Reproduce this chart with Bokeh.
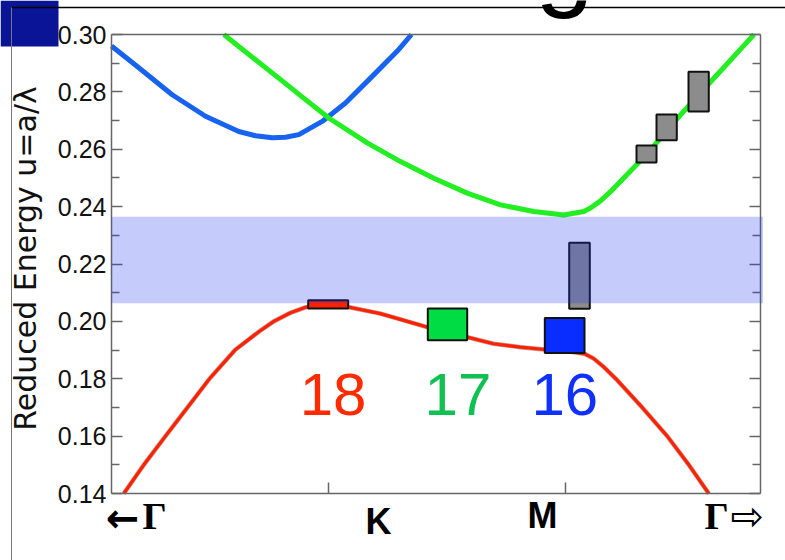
from math import pi

from bokeh.plotting import figure
from bokeh.models import Range1d, LinearAxis, FixedTicker, Label, BoxAnnotation
from bokeh.core.properties import value
from bokeh.embed import file_html
from bokeh.resources import INLINE

# Position along the Brillouin-zone path: K = 1, M = 2 (Γ lies beyond both ends of the window)
k_window = (0.0844, 2.8228)
u_window = (0.14, 0.30)

path_ticks = [1.0, 2.0]
energy_ticks = [0.14, 0.16, 0.18, 0.20, 0.22, 0.24, 0.26, 0.28, 0.30]
energy_tick_labels = ["0.14", "0.16", "0.18", "0.20", "0.22", "0.24", "0.26", "0.28", "0.30"]
energy_minor_ticks = [0.15, 0.17, 0.19, 0.21, 0.23, 0.25, 0.27, 0.29]

# dielectric band (red)
band18_k = [0.1363, 0.2207, 0.3122, 0.4051, 0.4979, 0.6055, 0.7059, 0.7692, 0.8397, 0.9030,
            0.9873, 1.0831, 1.2194, 1.4165, 1.5852, 1.6962, 1.8101, 1.9114, 2.0211, 2.0802,
            2.1181, 2.1616, 2.2181, 2.3236, 2.4291, 2.5203, 2.6046]
band18_u = [0.140, 0.150, 0.160, 0.170, 0.180, 0.190, 0.1964, 0.2000, 0.2030, 0.2049,
            0.2056, 0.2050, 0.2027, 0.1980, 0.1945, 0.1922, 0.1910, 0.1902, 0.1894, 0.1887,
            0.1871, 0.1841, 0.1795, 0.1700, 0.1600, 0.1500, 0.1400]

# upper band around K (blue)
band19_k = [0.0844, 0.1996, 0.3405, 0.4810, 0.6215, 0.6920, 0.7624, 0.8186, 0.8747, 0.9734,
            1.0717, 1.1844, 1.2966, 1.3502]
band19_u = [0.2960, 0.2884, 0.2790, 0.2715, 0.2662, 0.2647, 0.2640, 0.2642, 0.2651, 0.2697,
            0.2761, 0.2854, 0.2948, 0.3000]

# air band (green)
band20_k = [0.5582, 0.6920, 0.8325, 0.8819, 1.0013, 1.1633, 1.3038, 1.4443, 1.5852, 1.7257,
            1.8662, 1.9928, 2.0772, 2.1055, 2.1477, 2.1899, 2.2743, 2.3447, 2.4291, 2.5135,
            2.5979, 2.6679, 2.7456, 2.7954]
band20_u = [0.3000, 0.2912, 0.2820, 0.2787, 0.2709, 0.2622, 0.2557, 0.2499, 0.2447, 0.2406,
            0.2383, 0.2371, 0.2383, 0.2395, 0.2420, 0.2452, 0.2524, 0.2584, 0.2667, 0.2746,
            0.2822, 0.2885, 0.2955, 0.3000]

# photonic band gap
gap_bottom, gap_top = 0.2063, 0.2365

# measured resonances (k-span x energy-span boxes)
mode_left = [0.9143, 1.4190, 1.9127]
mode_right = [1.0831, 1.5852, 2.0802]
mode_bottom = [0.2045, 0.1934, 0.1890]
mode_top = [0.2074, 0.2045, 0.2012]
mode_fill = ["#ff2200", "#00dd44", "#0a2dff"]

gray_left = [2.0156, 2.2996, 2.3840, 2.5190]
gray_right = [2.1025, 2.3840, 2.4696, 2.6046]
gray_bottom = [0.2044, 0.2554, 0.2631, 0.2732]
gray_top = [0.2274, 0.2613, 0.2721, 0.2870]

# period labels of the three resonances
period_text = ["18", "17", "16"]
period_k = [1.019, 1.546, 1.997]
period_u = [0.1665, 0.1665, 0.1665]
period_color = ["#ff2a00", "#10c050", "#1030ff"]

# ---------------------------------------------------------------------------
# page geometry: the data frame covers the whole slide, the chart box sits
# between pixels 111..760 (x) and 34..493 (y)
W, H = 785, 560
K_PX, M_PX = 328, 565
TOP_PX, BOTTOM_PX = 34, 493


def kx(px):
    return 1.0 + (px - K_PX) / (M_PX - K_PX)


def uy(py):
    return u_window[1] - (py - TOP_PX) / (BOTTOM_PX - TOP_PX) * (u_window[1] - u_window[0])


# the svg text baseline lands a bit over a third of an em below the anchor
BASE_SHIFT = 0.38


def base(py, size):
    return uy(py - BASE_SHIFT * size)


p = figure(width=W, height=H, output_backend="svg", toolbar_location=None,
           x_range=Range1d(kx(0), kx(W)), y_range=Range1d(uy(H), uy(0)),
           min_border=0, x_axis_type=None, y_axis_type=None)
p.grid.visible = False
p.background_fill_color = "white"
p.border_fill_color = "white"
p.outline_line_color = None

axis_color = "#666666"


def style_axis(ax, tick_in=11, minor_in=8):
    ax.axis_line_color = axis_color
    ax.axis_line_width = 1.5
    ax.major_tick_line_color = axis_color
    ax.minor_tick_line_color = axis_color
    ax.major_tick_line_width = 1.5
    ax.minor_tick_line_width = 1.5
    ax.major_tick_in = tick_in
    ax.major_tick_out = 0
    ax.minor_tick_in = minor_in
    ax.minor_tick_out = 0


left_axis = LinearAxis(ticker=FixedTicker(ticks=energy_ticks, minor_ticks=energy_minor_ticks),
                       fixed_location=k_window[0], bounds=u_window)
left_axis.major_label_overrides = {t: s for t, s in zip(energy_ticks, energy_tick_labels)}
left_axis.major_label_text_font = "Liberation Sans"
left_axis.major_label_text_font_size = "25px"
left_axis.major_label_text_color = "#111111"
left_axis.major_label_standoff = 5
style_axis(left_axis)
p.add_layout(left_axis, "left")

right_axis = LinearAxis(ticker=FixedTicker(ticks=energy_ticks, minor_ticks=energy_minor_ticks),
                        fixed_location=k_window[1], bounds=u_window)
right_axis.major_label_text_color = None
style_axis(right_axis)
p.add_layout(right_axis, "right")

bottom_axis = LinearAxis(ticker=FixedTicker(ticks=path_ticks, minor_ticks=[]),
                         fixed_location=u_window[0], bounds=k_window)
bottom_axis.major_label_text_color = None
style_axis(bottom_axis)
p.add_layout(bottom_axis, "below")

top_axis = LinearAxis(ticker=FixedTicker(ticks=[], minor_ticks=[]),
                      fixed_location=u_window[1], bounds=k_window)
top_axis.major_label_text_color = None
style_axis(top_axis)
p.add_layout(top_axis, "above")

# bands
p.line(band18_k, band18_u, line_color="#7a2010", line_width=4.5, line_alpha=0.45,
       line_join="round")
p.line(band18_k, band18_u, line_color="#ff2200", line_width=3.2, line_join="round")
p.line(band19_k, band19_u, line_color="#1763f0", line_width=5, line_join="round")
p.line(band20_k, band20_u, line_color="#22ee22", line_width=5, line_join="round")

# resonances
p.quad(left=gray_left, right=gray_right, bottom=gray_bottom, top=gray_top,
       fill_color="#8c8c8c", line_color="#111111", line_width=2)
p.quad(left=mode_left, right=mode_right, bottom=mode_bottom, top=mode_top,
       fill_color=mode_fill, line_color="#111111", line_width=2)

# band gap drawn over everything, ticks included
p.add_layout(BoxAnnotation(left=k_window[0], right=kx(762.5), bottom=gap_bottom, top=gap_top,
                           fill_color="#2037ec", fill_alpha=0.26, line_alpha=0, level="overlay"))

p.text(x=period_k, y=period_u, text=period_text, text_color=period_color,
       text_font=value("Liberation Sans"), text_font_size="60px",
       text_align="center", text_baseline="alphabetic", y_offset=-BASE_SHIFT * 60)

# y-axis title (rotated: the baseline shift runs along +x)
p.add_layout(Label(x=kx(37 - 0.41 * 30), y=uy(258), text="Reduced Energy u=a/λ",
                   angle=pi / 2, text_font="DejaVu Sans", text_font_size="30px",
                   text_color="#111111", text_align="center", text_baseline="alphabetic"))

# path labels under the axis
lab = dict(text_align="center", text_baseline="alphabetic", text_color="black")
p.add_layout(Label(x=kx(122), y=base(533, 40), text="←", text_font="DejaVu Sans",
                   text_font_style="bold", text_font_size="40px", **lab))
p.add_layout(Label(x=kx(154), y=base(530, 38), text="Γ", text_font="Liberation Serif",
                   text_font_style="bold", text_font_size="38px", **lab))
p.add_layout(Label(x=kx(378), y=base(535, 36), text="K", text_font="Liberation Sans",
                   text_font_style="bold", text_font_size="36px", **lab))
p.add_layout(Label(x=kx(542), y=base(529, 36), text="M", text_font="Liberation Sans",
                   text_font_style="bold", text_font_size="36px", **lab))
p.add_layout(Label(x=kx(716), y=base(530, 38), text="Γ", text_font="Liberation Serif",
                   text_font_style="bold", text_font_size="38px", **lab))
p.add_layout(Label(x=kx(747), y=base(531, 40), text="⇨", text_font="DejaVu Sans",
                   text_font_size="40px", **lab))

# slide furniture around the chart
p.add_layout(BoxAnnotation(left=kx(0), right=kx(58), top=uy(0), bottom=uy(46),
                           fill_color="#0a1496", fill_alpha=1, line_alpha=0, level="overlay"))
p.add_layout(BoxAnnotation(left=kx(11), right=kx(W), top=uy(6.2), bottom=uy(7.8),
                           fill_color="black", fill_alpha=1, line_alpha=0, level="overlay"))
p.add_layout(BoxAnnotation(left=kx(10.5), right=kx(11.5), top=uy(7), bottom=uy(H),
                           fill_color="#777777", fill_alpha=1, line_alpha=0, level="overlay"))
p.add_layout(Label(x=kx(564), y=base(0, 105), text="g", text_font="Liberation Sans",
                   text_font_size="105px", text_color="black",
                   text_align="center", text_baseline="alphabetic"))

open("out.html", "w").write(file_html(p, INLINE))
